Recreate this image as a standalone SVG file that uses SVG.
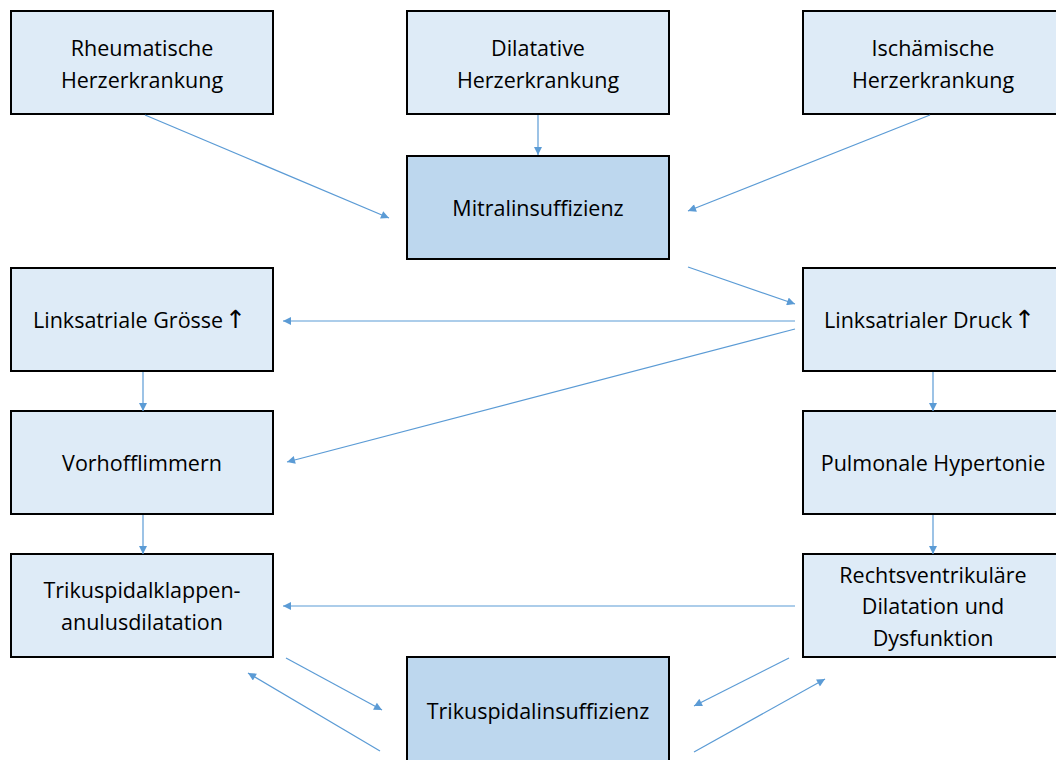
<svg xmlns="http://www.w3.org/2000/svg" width="1056" height="760" viewBox="0 0 1056 760">
<style>
.box{fill:#DEEBF7;stroke:#000;stroke-width:2}
.dark{fill:#BDD7EE;stroke:#000;stroke-width:2}
text{font-family:"Open Sans","Liberation Sans",sans-serif;font-size:21.5px;fill:#000;text-anchor:middle}
.s{text-anchor:start}
.ar{font-family:"DejaVu Sans",sans-serif;font-size:25px}
.c line{stroke:#5B9BD5;stroke-width:1.2;marker-end:url(#ah)}
</style>
<defs>
<marker id="ah" viewBox="0 0 10 10" refX="10" refY="5" markerWidth="10" markerHeight="8" markerUnits="userSpaceOnUse" orient="auto">
<path d="M0,0 L10,5 L0,10 z" fill="#5B9BD5"/>
</marker>
</defs>
<rect width="1056" height="760" fill="#fff"/>
<g id="n1"><rect class="box" x="11" y="11" width="262" height="103"/><text x="142" y="56">Rheumatische</text><text x="142" y="88">Herzerkrankung</text></g>
<g id="n2"><rect class="box" x="407" y="11" width="262" height="103"/><text x="538" y="56">Dilatative</text><text x="538" y="88">Herzerkrankung</text></g>
<g id="n3"><rect class="box" x="803" y="11" width="262" height="103"/><text x="933" y="56">Ischämische</text><text x="933" y="88">Herzerkrankung</text></g>
<g id="n4"><rect class="dark" x="407" y="156" width="262" height="103"/><text x="538" y="216">Mitralinsuffizienz</text></g>
<g id="n5"><rect class="box" x="11" y="268" width="262" height="103"/><text class="s" x="33" y="328">Linksatriale Grösse<tspan class="ar" dx="2">↑</tspan></text></g>
<g id="n6"><rect class="box" x="803" y="268" width="262" height="103"/><text class="s" x="824" y="328">Linksatrialer Druck<tspan class="ar" dx="2">↑</tspan></text></g>
<g id="n7"><rect class="box" x="11" y="411" width="262" height="103"/><text x="142" y="471">Vorhofflimmern</text></g>
<g id="n8"><rect class="box" x="803" y="411" width="262" height="103"/><text x="933" y="471">Pulmonale Hypertonie</text></g>
<g id="n9"><rect class="box" x="11" y="554" width="262" height="103"/><text x="142" y="598">Trikuspidalklappen-</text><text x="142" y="630">anulusdilatation</text></g>
<g id="n10"><rect class="box" x="803" y="554" width="262" height="103"/><text x="933" y="583">Rechtsventrikuläre</text><text x="933" y="614">Dilatation und</text><text x="933" y="646">Dysfunktion</text></g>
<g id="n11"><rect class="dark" x="407" y="657" width="262" height="110"/><text x="538" y="719">Trikuspidalinsuffizienz</text></g>
<g class="c" id="connectors">
<line x1="145" y1="115" x2="389" y2="218"/>
<line x1="538" y1="115" x2="538" y2="155"/>
<line x1="930" y1="115" x2="688" y2="211"/>
<line x1="688" y1="267" x2="795" y2="304"/>
<line x1="795" y1="321" x2="283" y2="321"/>
<line x1="795" y1="329" x2="287" y2="462"/>
<line x1="143" y1="372" x2="143" y2="411"/>
<line x1="933" y1="372" x2="933" y2="411"/>
<line x1="143" y1="515" x2="143" y2="554"/>
<line x1="933" y1="515" x2="933" y2="554"/>
<line x1="795" y1="606" x2="283" y2="606"/>
<line x1="286" y1="658" x2="382" y2="710"/>
<line x1="380" y1="751" x2="248" y2="673"/>
<line x1="789" y1="658" x2="694" y2="706"/>
<line x1="694" y1="752" x2="825" y2="679"/>
</g>
</svg>
